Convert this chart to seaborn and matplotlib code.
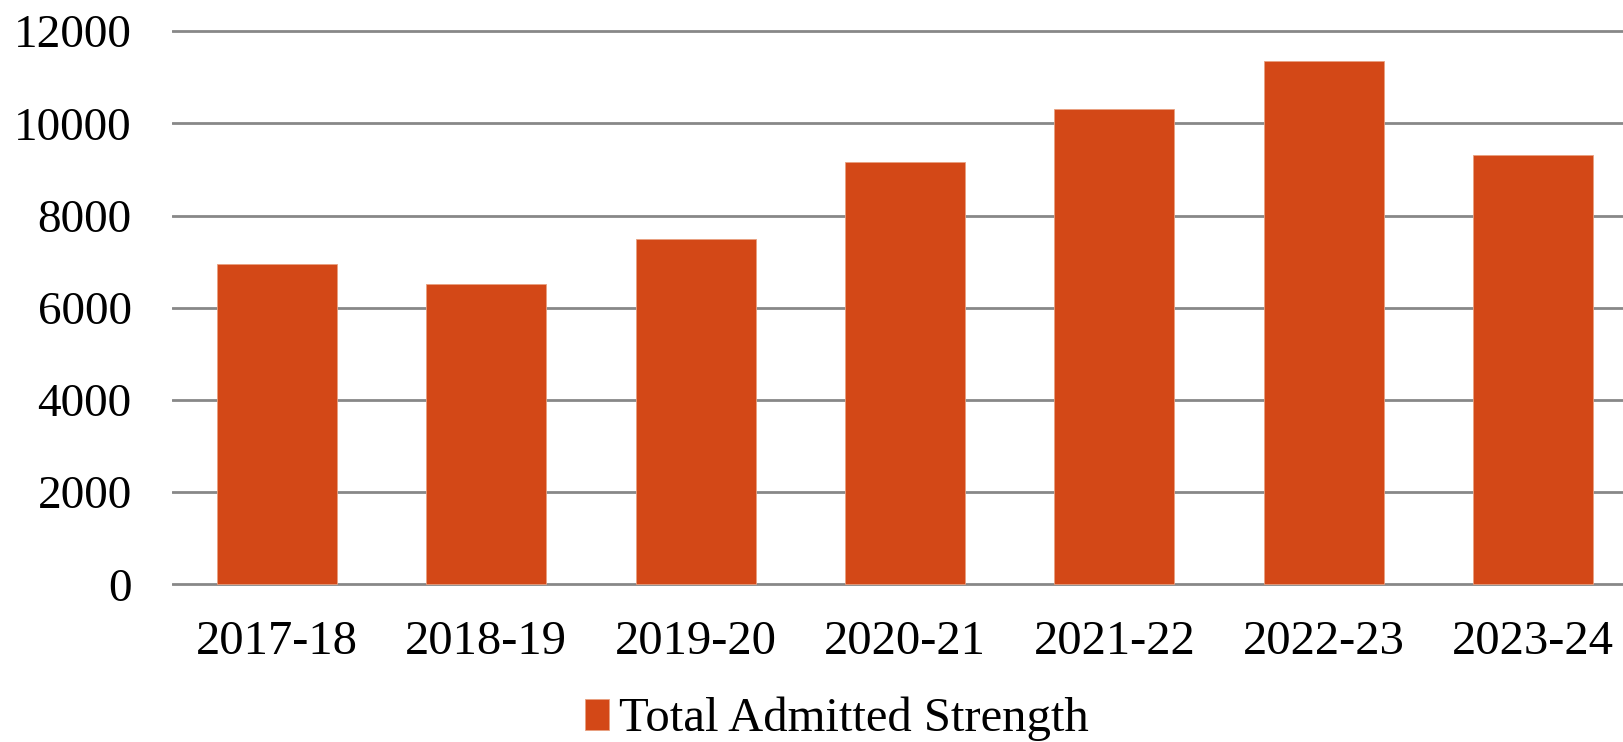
import matplotlib
matplotlib.use("Agg")
import matplotlib.pyplot as plt
import seaborn as sns
import pandas as pd

categories = ["2017-18", "2018-19", "2019-20", "2020-21", "2021-22", "2022-23", "2023-24"]
values = [6950, 6510, 7490, 9155, 10310, 11345, 9315]
series_name = "Total Admitted Strength"
yticks = [0, 2000, 4000, 6000, 8000, 10000, 12000]

sns.set_theme(style="white")
plt.rcParams["font.family"] = ["Liberation Serif", "DejaVu Serif"]
plt.rcParams["text.color"] = "black"

df = pd.DataFrame({"Year": categories, "Value": values})

fig = plt.figure(figsize=(16.23, 7.42), dpi=100)
W, H = 1623, 742
left, right = 172 / W, 1.0
top, bottom = 1 - 30 / H, 1 - 585.6 / H
ax = fig.add_axes([left, bottom, right - left, top - bottom])

bar_color = "#D34817"
sns.barplot(data=df, x="Year", y="Value", color=bar_color, width=0.573,
            saturation=1, ax=ax, label=series_name, edgecolor="#E8A080", linewidth=0.6)

pad = 25
ax.set_ylim(-pad, 12000 + pad)
ax.set_xlim(-0.5, 6.5 - 15 / 209.4)
ax.set_yticks(yticks)
ax.set_yticklabels([str(v) for v in yticks])
ax.set_axisbelow(True)
ax.yaxis.grid(True, color="#888888", linewidth=2.0)
ax.xaxis.grid(False)
for s in ax.spines.values():
    s.set_visible(False)
ax.tick_params(axis="y", length=0, pad=29, labelsize=34, colors="black")
ax.tick_params(axis="x", length=0, pad=25, labelsize=35, colors="black")
ax.set_xlabel("")
ax.set_ylabel("")
if ax.get_legend() is not None:
    ax.get_legend().remove()

handles, labels = ax.get_legend_handles_labels()
leg = fig.legend(handles[:1], labels[:1], loc="center", bbox_to_anchor=(0.5155, 0.031),
                 frameon=False, fontsize=35, handlelength=0.5, handleheight=0.6,
                 handletextpad=0.2, borderaxespad=0, borderpad=0)
for t in leg.get_texts():
    t.set_color("black")

fig.savefig("out.png", dpi=100)
